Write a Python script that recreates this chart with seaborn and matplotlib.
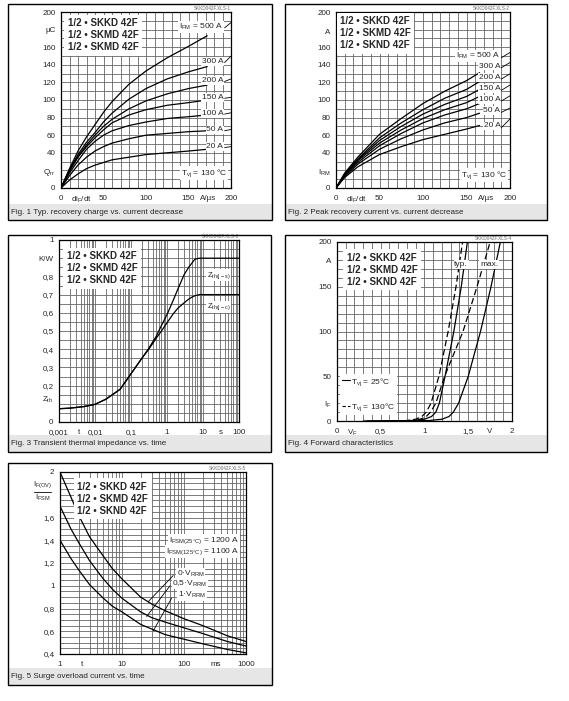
import numpy as np
import pandas as pd
import matplotlib
matplotlib.use("Agg")
import matplotlib.pyplot as plt
import seaborn as sns
from matplotlib.patches import Rectangle
from matplotlib.lines import Line2D
from matplotlib.ticker import NullFormatter

# ------------------------------------------------------------------ data
# Fig. 1  Qrr vs diF/dt
f1_x = [0, 10, 20, 30, 40, 50, 60, 80, 100, 125, 150, 172]
f1_names = ["500 A", "300 A", "200 A", "150 A", "100 A", "50 A", "20 A"]
f1_q500 = [0, 22, 42, 58, 72, 86, 98, 118, 133, 148, 161, 173]
f1_q300 = [0, 21, 38, 52, 63, 75, 85, 101, 113, 124, 132, 138]
f1_q200 = [0, 20, 36, 49, 60, 70, 78, 90, 99, 107, 113, 117]
f1_q150 = [0, 19, 35, 47, 57, 66, 74, 83, 89, 94, 97, 100]
f1_q100 = [0, 17, 31, 44, 53, 60, 65, 71, 75, 79, 81, 83]
f1_q50 = [0, 14, 26, 35, 42, 47, 51, 56, 60, 62, 64, 65]
f1_q20 = [0, 9, 16, 22, 26, 29, 32, 35, 38, 40, 42, 44]
f1_label_y = [183, 143.5, 122, 103, 85, 66, 47]
f1_leader_rise = [6, 7.5, 3, 1, 1.5, 1.5, 1]

# Fig. 2  IRM vs diF/dt
f2_x = [0, 10, 25, 50, 75, 100, 125, 150, 165]
f2_names = ["500 A", "300 A", "200 A", "150 A", "100 A", "50 A", "20 A"]
f2_i500 = [0, 17, 35, 61, 79, 96, 110, 122, 131]
f2_i300 = [0, 16, 33, 57, 74, 89, 102, 112, 121]
f2_i200 = [0, 15, 32, 54, 70, 84, 95, 104, 112]
f2_i150 = [0, 15, 31, 51, 66, 79, 89, 97, 104]
f2_i100 = [0, 14, 29, 48, 62, 74, 83, 90, 96]
f2_i50 = [0, 13, 27, 44, 56, 66, 74, 80, 85]
f2_i20 = [0, 12, 24, 38, 47, 55, 61, 67, 71]
f2_label_y = [150, 138.6, 125.8, 113, 100.8, 87.9, 70.5]
f2_leader_rise = [6, 6, 6, 6, 6, 5, 10]

# Fig. 3  Zth vs t
f3_t = [0.001, 0.002, 0.005, 0.01, 0.02, 0.05, 0.1, 0.2, 0.3, 0.5, 0.7, 1,
        1.5, 2, 3, 4, 5, 6, 8, 10, 30, 100]
f3_js = [0.073, 0.076, 0.085, 0.097, 0.125, 0.18, 0.265, 0.35, 0.40, 0.47, 0.53,
         0.59, 0.67, 0.73, 0.81, 0.85, 0.875, 0.895, 0.9, 0.9, 0.9, 0.9]
f3_jc = [0.073, 0.076, 0.085, 0.097, 0.125, 0.18, 0.265, 0.35, 0.395, 0.46, 0.50,
         0.545, 0.595, 0.625, 0.655, 0.675, 0.687, 0.694, 0.7, 0.7, 0.7, 0.7]

# Fig. 4  IF vs VF
f4_I = [0, 0.5, 2, 5, 10, 20, 50, 100, 150, 200]
f4_v_typ25 = [0.30, 0.88, 1.00, 1.08, 1.13, 1.17, 1.235, 1.335, 1.42, 1.49]
f4_v_max25 = [0.35, 1.05, 1.20, 1.28, 1.33, 1.39, 1.50, 1.64, 1.76, 1.867]
f4_v_typ130 = [0.55, 0.80, 0.90, 0.97, 1.02, 1.075, 1.165, 1.27, 1.36, 1.435]
f4_v_max130 = [0.60, 0.85, 0.95, 1.02, 1.07, 1.13, 1.23, 1.44, 1.60, 1.75]

# Fig. 5  IF(OV)/IFSM vs t
f5_t = [1, 1.5, 2, 3, 5, 7, 10, 20, 30, 50, 100, 200, 500, 1000]
f5_v0 = [2.0, 1.78, 1.62, 1.43, 1.26, 1.15, 1.06, 0.90, 0.84, 0.78, 0.71, 0.65, 0.56, 0.51]
f5_v05 = [1.70, 1.50, 1.38, 1.22, 1.06, 0.97, 0.89, 0.77, 0.72, 0.68, 0.63, 0.58, 0.51, 0.47]
f5_v1 = [1.40, 1.24, 1.14, 1.01, 0.89, 0.82, 0.77, 0.66, 0.62, 0.57, 0.53, 0.49, 0.44, 0.41]

# ------------------------------------------------------------------ style
sns.set_style("white")
plt.rcParams["font.family"] = ["Liberation Sans", "DejaVu Sans"]
plt.rcParams["mathtext.default"] = "regular"

W, H = 569, 701
fig = plt.figure(figsize=(W / 100, H / 100), dpi=100)
GRID = "#666666"
TICK_FS = 5.8
LBL_FS = 6.0


def add_ax(x0, y0, x1, y1):
    return fig.add_axes([x0 / W, 1 - y1 / H, (x1 - x0) / W, (y1 - y0) / H])


def box(x0, y0, x1, y1, strip_top, caption):
    fig.add_artist(Rectangle((x0 / W, 1 - y1 / H), (x1 - x0) / W, (y1 - strip_top) / H,
                             transform=fig.transFigure, facecolor="#e6e6e6",
                             edgecolor="none", zorder=0))
    fig.add_artist(Rectangle((x0 / W, 1 - y1 / H), (x1 - x0) / W, (y1 - y0) / H,
                             transform=fig.transFigure, fill=False,
                             edgecolor="black", lw=1.0, zorder=5))
    fig.text((x0 + 3) / W, 1 - ((strip_top + y1) / 2) / H, caption,
             fontsize=5.8, ha="left", va="center")


def style_ax(ax, xlim, ylim, xmaj, xlab, ymaj, ylab, xmin, ymin, log=False):
    if log:
        ax.set_xscale("log")
    ax.set_xlim(*xlim)
    ax.set_ylim(*ylim)
    ax.set_xticks(xmaj, xlab)
    ax.set_yticks(ymaj, ylab)
    ax.set_xticks(xmin, minor=True)
    ax.set_yticks(ymin, minor=True)
    ax.xaxis.set_minor_formatter(NullFormatter())
    ax.yaxis.set_minor_formatter(NullFormatter())
    ax.xaxis.remove_overlapping_locs = False
    ax.yaxis.remove_overlapping_locs = False
    ax.grid(False, which="major")
    ax.grid(True, which="minor", color=GRID, lw=0.6)
    ax.set_axisbelow(True)
    ax.tick_params(which="both", length=0, labelsize=TICK_FS)
    ax.tick_params(axis="x", pad=5)
    ax.tick_params(axis="y", pad=4)
    for s in ax.spines.values():
        s.set_color("black")
        s.set_linewidth(0.9)
    ax.set_xlabel("")
    ax.set_ylabel("")


def title_box(ax, x, y, third):
    ax.text(x, y, "1/2 • SKKD 42F\n1/2 • SKMD 42F\n" + third, transform=ax.transAxes,
            fontsize=7, fontweight="bold", ha="left", va="center", linespacing=1.25,
            bbox=dict(facecolor="white", edgecolor="none", pad=2.5), zorder=6)


def header(ax, s):
    ax.text(1.0, 1.008, s, transform=ax.transAxes, ha="right", va="bottom",
            fontsize=3.3, color="#666666")


def wtext(ax, x, y, s, **kw):
    kw.setdefault("fontsize", LBL_FS)
    ax.text(x, y, s, bbox=dict(facecolor="white", edgecolor="none", pad=0.6),
            zorder=6, **kw)


# ------------------------------------------------------------------ boxes
box(8, 4, 272, 220, 204, "Fig. 1 Typ. recovery charge vs. current decrease")
box(285, 4, 547, 220, 204, "Fig. 2 Peak recovery current vs. current decrease")
box(8, 235, 271, 452, 435, "Fig. 3 Transient thermal impedance vs. time")
box(285, 235, 547, 452, 435, "Fig. 4 Forward characteristics")
box(8, 463, 272, 685, 668, "Fig. 5 Surge overload current vs. time")

lin_minor = list(range(0, 201, 10))

# ------------------------------------------------------------------ Fig 1
ax1 = add_ax(61, 12, 231, 188)
f1_series = [f1_q500, f1_q300, f1_q200, f1_q150, f1_q100, f1_q50, f1_q20]
df1 = pd.concat([pd.DataFrame({"x": f1_x, "y": s, "c": n}) for n, s in zip(f1_names, f1_series)])
sns.lineplot(data=df1, x="x", y="y", hue="c", palette=["black"] * 7, legend=False,
             estimator=None, lw=0.9, ax=ax1)
style_ax(ax1, (0, 200), (0, 200),
         [0, 24, 50, 100, 150, 173, 200], ["0", "di$_F$/dt", "50", "100", "150", "A/µs", "200"],
         list(range(0, 201, 20)),
         ["0", "Q$_{rr}$", "40", "60", "80", "100", "120", "140", "160", "µC", "200"],
         lin_minor, lin_minor)
for i, (n, yl, d) in enumerate(zip(f1_names, f1_label_y, f1_leader_rise)):
    s = "I$_{FM}$ = " + n if i == 0 else n
    wtext(ax1, 191, yl, s, ha="right", va="center")
    ax1.plot([192.5, 200], [yl - 1, yl - 1 + d], color="black", lw=0.6, clip_on=False, zorder=7)
wtext(ax1, 196, 17, "T$_{vj}$ = 130 °C", ha="right", va="center")
title_box(ax1, 0.04, 0.868, "1/2 • SKMD 42F")
header(ax1, "SKKD042F.XLS-1")

# ------------------------------------------------------------------ Fig 2
ax2 = add_ax(336, 12, 510, 188)
f2_series = [f2_i500, f2_i300, f2_i200, f2_i150, f2_i100, f2_i50, f2_i20]
df2 = pd.concat([pd.DataFrame({"x": f2_x, "y": s, "c": n}) for n, s in zip(f2_names, f2_series)])
sns.lineplot(data=df2, x="x", y="y", hue="c", palette=["black"] * 7, legend=False,
             estimator=None, lw=0.9, ax=ax2)
style_ax(ax2, (0, 200), (0, 200),
         [0, 24, 50, 100, 150, 173, 200], ["0", "di$_F$/dt", "50", "100", "150", "A/µs", "200"],
         [0, 18.5, 40, 60, 80, 100, 120, 140, 160, 178, 200],
         ["0", "I$_{RM}$", "40", "60", "80", "100", "120", "140", "160", "A", "200"],
         lin_minor, lin_minor)
for i, (n, yl, d) in enumerate(zip(f2_names, f2_label_y, f2_leader_rise)):
    s = "I$_{FM}$ = " + n if i == 0 else n
    wtext(ax2, 189, yl, s, ha="right", va="center")
    ax2.plot([190, 200], [yl - 2, yl - 2 + d], color="black", lw=0.6, clip_on=False, zorder=7)
wtext(ax2, 197, 15, "T$_{vj}$ = 130 °C", ha="right", va="center")
title_box(ax2, 0.023, 0.879, "1/2 • SKND 42F")
header(ax2, "SKKD042F.XLS-2")

# ------------------------------------------------------------------ Fig 3
ax3 = add_ax(59, 240, 239, 422)
df3 = pd.concat([pd.DataFrame({"t": f3_t, "z": f3_js, "c": "j-s"}),
                 pd.DataFrame({"t": f3_t, "z": f3_jc, "c": "j-c"})])
sns.lineplot(data=df3, x="t", y="z", hue="c", palette=["black"] * 2, legend=False,
             estimator=None, lw=0.9, ax=ax3)
log3_minor = [k * 10.0 ** e for e in range(-3, 2) for k in range(1, 10)] + [100]
style_ax(ax3, (0.001, 100), (0, 1),
         [0.001, 0.0035, 0.01, 0.1, 1, 10, 32, 100],
         ["0,001", "t", "0,01", "0,1", "1", "10", "s", "100"],
         [0, 0.13, 0.2, 0.3, 0.4, 0.5, 0.6, 0.7, 0.8, 0.9, 1.0],
         ["0", "Z$_{th}$", "0,2", "0,3", "0,4", "0,5", "0,6", "0,7", "0,8", "K/W", "1"],
         log3_minor, list(np.arange(0, 1.0001, 0.05)), log=True)
wtext(ax3, 27, 0.807, "Z$_{th(j-s)}$", ha="center", va="center", fontsize=5.5)
wtext(ax3, 27, 0.633, "Z$_{th(j-c)}$", ha="center", va="center", fontsize=5.5)
title_box(ax3, 0.043, 0.844, "1/2 • SKND 42F")
header(ax3, "SKKD042F.XLS-3")

# ------------------------------------------------------------------ Fig 4
ax4 = add_ax(337, 242, 512, 421)
df4 = pd.concat([
    pd.DataFrame({"v": f4_v_typ25, "i": f4_I, "c": "typ25", "T": "25"}),
    pd.DataFrame({"v": f4_v_max25, "i": f4_I, "c": "max25", "T": "25"}),
    pd.DataFrame({"v": f4_v_typ130, "i": f4_I, "c": "typ130", "T": "130"}),
    pd.DataFrame({"v": f4_v_max130, "i": f4_I, "c": "max130", "T": "130"}),
])
sns.lineplot(data=df4, x="v", y="i", hue="c", style="T", palette=["black"] * 4,
             dashes={"25": "", "130": (5, 2.5)}, legend=False, estimator=None,
             sort=False, lw=0.9, ax=ax4)
style_ax(ax4, (0, 2), (0, 200),
         [0, 0.17, 0.5, 1, 1.5, 1.75, 2], ["0", "V$_F$", "0,5", "1", "1,5", "V", "2"],
         [0, 19.4, 50, 100, 150, 179, 200], ["0", "I$_F$", "50", "100", "150", "A", "200"],
         list(np.arange(0, 2.0001, 0.1)), list(range(0, 201, 10)))
wtext(ax4, 1.42, 175, "typ.", ha="center", va="center")
wtext(ax4, 1.74, 175, "max.", ha="center", va="center")
leg = ax4.legend(handles=[Line2D([], [], color="black", lw=0.8),
                          Line2D([], [], color="black", lw=0.8, ls=(0, (3, 2)))],
                 labels=["T$_{vj}$ = 25°C", "T$_{vj}$ = 130°C"],
                 loc="lower left", bbox_to_anchor=(0.02, 0.035), fontsize=6,
                 handlelength=1.0, handletextpad=0.15, labelspacing=1.7,
                 frameon=True, facecolor="white", edgecolor="none", framealpha=1,
                 borderpad=0.15, borderaxespad=0, fancybox=False)
leg.set_zorder(6)
title_box(ax4, 0.055, 0.844, "1/2 • SKND 42F")
header(ax4, "SKKD042F.XLS-4")

# ------------------------------------------------------------------ Fig 5
ax5 = add_ax(60, 472, 246, 654)
df5 = pd.concat([pd.DataFrame({"t": f5_t, "r": f5_v0, "c": "0"}),
                 pd.DataFrame({"t": f5_t, "r": f5_v05, "c": "0.5"}),
                 pd.DataFrame({"t": f5_t, "r": f5_v1, "c": "1"})])
sns.lineplot(data=df5, x="t", y="r", hue="c", palette=["black"] * 3, legend=False,
             estimator=None, lw=0.9, ax=ax5)
log5_minor = [k * 10.0 ** e for e in range(0, 3) for k in range(1, 10)] + [1000]
style_ax(ax5, (1, 1000), (0.4, 2.0),
         [1, 2.3, 10, 100, 330, 1000], ["1", "t", "10", "100", "ms", "1000"],
         [0.4, 0.6, 0.8, 1.0, 1.2, 1.4, 1.6, 2.0],
         ["0,4", "0,6", "0,8", "1", "1,2", "1,4", "1,6", "2"],
         log5_minor, list(np.arange(0.4, 2.0001, 0.05)), log=True)
wtext(ax5, 780, 1.40, "I$_{FSM(25°C)}$ = 1200 A", ha="right", va="center")
wtext(ax5, 780, 1.30, "I$_{FSM(125°C)}$ = 1100 A", ha="right", va="center")
wtext(ax5, 76, 1.108, "0·V$_{RRM}$", ha="left", va="center")
wtext(ax5, 65, 1.02, "0,5·V$_{RRM}$", ha="left", va="center")
wtext(ax5, 81, 0.918, "1·V$_{RRM}$", ha="left", va="center")
ax5.plot([67, 26.5], [1.09, 0.86], color="black", lw=0.6, zorder=7)
ax5.plot([59.5, 25], [1.0, 0.73], color="black", lw=0.6, zorder=7)
ax5.plot([63, 32], [0.89, 0.605], color="black", lw=0.6, zorder=7)
ax5.text(-0.094, 0.93, "I$_{F(OV)}$", transform=ax5.transAxes, ha="center", va="center",
         fontsize=5.8)
ax5.text(-0.094, 0.855, "I$_{FSM}$", transform=ax5.transAxes, ha="center", va="center",
         fontsize=5.8)
ax5.plot([-0.14, -0.05], [0.892, 0.892], transform=ax5.transAxes, color="black",
         lw=0.6, clip_on=False)
title_box(ax5, 0.093, 0.852, "1/2 • SKND 42F")
header(ax5, "SKKD042F.XLS-5")

fig.savefig("out.png", dpi=100)
